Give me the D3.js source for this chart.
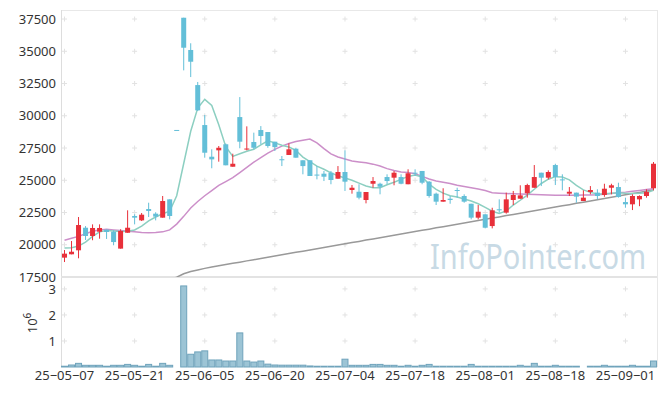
<!DOCTYPE html>
<html>
<head>
<meta charset="utf-8">
<script src="https://cdn.jsdelivr.net/npm/d3@7/dist/d3.min.js"></script>
<style>
  body { margin: 0; background: #fff; }
  text { font-family: "Noto Sans", sans-serif; }
</style>
</head>
<body>
<svg id="chart"></svg>
<script>
// trading days (yy-mm-dd)
const dates = ["25-05-07","25-05-08","25-05-09","25-05-12","25-05-13","25-05-14","25-05-15","25-05-16","25-05-19","25-05-20",
  "25-05-21","25-05-22","25-05-23","25-05-26","25-05-27","25-05-28","25-05-29","25-05-30","25-06-02","25-06-04",
  "25-06-05","25-06-09","25-06-10","25-06-11","25-06-12","25-06-13","25-06-16","25-06-17","25-06-18","25-06-19",
  "25-06-20","25-06-23","25-06-24","25-06-25","25-06-26","25-06-27","25-06-30","25-07-01","25-07-02","25-07-03",
  "25-07-04","25-07-07","25-07-08","25-07-09","25-07-10","25-07-11","25-07-14","25-07-15","25-07-16","25-07-17",
  "25-07-18","25-07-21","25-07-22","25-07-23","25-07-24","25-07-25","25-07-28","25-07-29","25-07-30","25-07-31",
  "25-08-01","25-08-04","25-08-05","25-08-06","25-08-07","25-08-08","25-08-11","25-08-12","25-08-13","25-08-14",
  "25-08-18","25-08-19","25-08-20","25-08-21","25-08-22","25-08-25","25-08-26","25-08-27","25-08-28","25-08-29",
  "25-09-01","25-09-02","25-09-03","25-09-04","25-09-05"];

const open  = [19000,19260,19570,21320,20680,21010,21170,21010,19700,20930,22230,21890,22770,22410,22100,23520,28900,37600,35100,32380,
  29280,26825,27320,27790,26050,29900,27380,27965,28895,28740,27990,26630,26960,27445,26550,26550,25440,25510,25585,25120,
  25640,24245,24110,23470,24730,24730,25250,25200,25250,24690,25585,25720,24890,23960,23340,23570,24245,23780,23180,22100,
  22360,21450,22750,22490,23470,23570,23990,24420,25585,25200,26180,25070,23960,24040,23390,24090,24040,23860,24420,24475,
  23310,23135,23520,23780,24380];
const high  = [19590,20290,22150,21450,21580,21580,21170,21120,21200,22670,22360,22460,23260,22520,23780,23520,28900,37600,35620,32620,
  30060,27400,27655,27850,27060,31450,29180,28690,29200,28740,27990,26880,27860,27520,26550,26550,26100,25720,25720,26100,
  27320,24630,24690,24090,25250,24810,25460,25720,25460,25850,25850,25720,24940,24040,24380,23780,24420,23910,23180,23080,
  22360,22870,23520,24040,24170,24610,24730,26180,25585,25770,26280,25460,24475,24040,24220,24550,24300,24730,24730,24810,
  23650,23910,23830,24300,26415];
const low   = [18660,19260,18950,20370,20350,20470,20450,19960,19700,20930,21580,21840,22150,21890,22100,21970,28900,33520,33000,30370,
  26750,25930,26440,26160,26050,27480,27320,27400,27790,27520,27270,26100,26960,26750,25460,25330,25070,24940,24690,25120,
  24170,23960,23520,23210,24420,23910,24690,24610,24690,24690,25330,24690,23650,23080,23340,23180,23650,23260,21970,21970,
  21270,21270,22490,22410,23080,23570,23650,24420,24550,25070,24630,24220,23780,23260,23390,23910,23520,23720,23910,23650,
  22870,22690,22990,23650,24220];
const close = [19310,19460,21530,20680,21300,21300,20990,20210,21070,21320,22100,22330,22620,22180,23390,22230,28900,35275,34190,30420,
  27135,26620,27520,26160,26280,27990,27460,27520,28430,27655,27580,26550,27400,26750,26100,25330,25400,25275,25020,25640,
  24890,24420,23650,24090,24940,24500,24940,25585,24730,25540,25510,24810,23780,23340,23470,23470,24170,23340,22100,22560,
  21320,22670,22670,23520,23860,23830,24630,25250,25200,25640,25250,24990,24110,23730,23650,24245,23780,24345,24610,23700,
  23135,23780,23780,24110,26280];
const volume = [30000,77000,140000,65000,65000,65000,30000,65000,65000,100000,65000,30000,100000,30000,140000,65000,0,3115000,490000,580000,
  620000,270000,270000,230000,230000,1310000,230000,190000,230000,110000,77000,70000,70000,70000,70000,40000,30000,30000,30000,30000,
  300000,65000,65000,65000,100000,100000,65000,65000,30000,65000,30000,65000,100000,30000,30000,30000,30000,30000,100000,30000,
  30000,30000,30000,30000,30000,65000,30000,140000,30000,30000,65000,30000,30000,30000,0,30000,30000,65000,30000,30000,
  30000,65000,30000,30000,230000];

// moving averages
const maShort = [19750,19770,19900,20200,20650,21000,21100,21070,21020,21050,21150,21450,21850,22150,22400,22600,23800,26300,28800,30600,
  31270,30800,29300,27600,26850,27050,27250,27400,27750,28060,27900,27720,27580,27320,26800,26450,26100,25850,25570,25350,
  25170,25000,24780,24550,24420,24420,24650,24850,25070,25300,25400,25250,24700,24300,24000,23800,23700,23550,23390,23180,
  22900,22600,22420,22620,23080,23450,23850,24300,24750,25080,25280,25250,25030,24600,24250,24060,23930,23950,24000,24040,
  24000,23980,24000,24040,24220];
const maMid = [20350,20500,20650,20850,21050,21150,21200,21150,21100,21050,21000,20950,20930,20950,21000,21150,21600,22200,22850,23350,
  23800,24200,24600,24900,25200,25600,26000,26400,26750,27100,27400,27650,27850,28000,28100,28200,27900,27450,27050,26800,
  26650,26500,26420,26350,26250,26100,25900,25750,25640,25600,25500,25300,25100,24950,24850,24750,24620,24520,24420,24330,
  24200,24040,24000,23970,23950,23930,23910,23900,23880,23850,23830,23830,23830,23840,23850,23860,23880,23920,23980,24040,
  24080,24150,24210,24280,24350];
const maLong = [null,null,null,null,null,null,null,null,null,null,null,null,null,null,null,17300,17480,17750,17920,18050,
  18170,18280,18380,18470,18560,18650,18750,18840,18940,19030,19130,19220,19320,19410,19500,19600,19690,19790,19880,19980,
  20070,20170,20260,20360,20450,20550,20640,20740,20830,20930,21020,21120,21210,21310,21400,21500,21590,21690,21780,21880,
  21970,22070,22160,22260,22350,22450,22540,22640,22730,22830,22920,23020,23110,23210,23300,23400,23490,23590,23680,23780,
  23870,23970,24060,24160,24250];

const priceTicks = [17500,20000,22500,25000,27500,30000,32500,35000,37500];
const volumeTicks = [1e6,2e6,3e6];
const dateTicks = [0,10,20,30,40,50,60,70,80];

const width = 665, height = 396;
const plotLeft = 61, plotRight = 657, plotTop = 10, mainBottom = 277, volTop = 278, volBottom = 367;

const svg = d3.select("#chart").attr("width", width).attr("height", height);

const idx = d3.range(dates.length);
const x = d3.scaleBand().domain(idx).range([plotLeft, plotRight]).padding(0);
const cx = i => x(i) + x.bandwidth() / 2;
const y = d3.scaleLinear().domain([17500, 38200]).range([mainBottom, plotTop]);
const yv = d3.scaleLinear().domain([0, 3.42e6]).range([volBottom, volTop]);

const up = "#e8303a", down = "#63bfd8";

svg.append("defs").append("clipPath").attr("id", "clipMain")
  .append("rect").attr("x", plotLeft).attr("y", plotTop).attr("width", plotRight - plotLeft).attr("height", mainBottom - plotTop);

// frame
svg.append("line").attr("x1", plotLeft).attr("x2", plotRight).attr("y1", plotTop + 0.5).attr("y2", plotTop + 0.5)
  .attr("stroke", "#e8e8e8");
svg.append("line").attr("x1", plotRight + 0.5).attr("x2", plotRight + 0.5).attr("y1", plotTop).attr("y2", volBottom)
  .attr("stroke", "#e8e8e8");
svg.append("line").attr("x1", plotLeft + 0.5).attr("x2", plotLeft + 0.5).attr("y1", plotTop).attr("y2", volBottom)
  .attr("stroke", "#dddddd");
svg.append("line").attr("x1", plotLeft).attr("x2", plotRight).attr("y1", mainBottom).attr("y2", mainBottom)
  .attr("stroke", "#e3e3e3").attr("stroke-width", 2);

// grid crosses
const cross = "M-2.5,0H2.5M0,-2.5V2.5";
const crossPts = [];
dateTicks.forEach(i => {
  priceTicks.filter(p => p > 17500).forEach(p => crossPts.push([cx(i), y(p)]));
  volumeTicks.forEach(v => crossPts.push([cx(i), yv(v)]));
});
svg.append("g").selectAll("path").data(crossPts).enter().append("path")
  .attr("d", cross).attr("transform", d => `translate(${d[0]},${d[1]})`)
  .attr("stroke", "#e2e2e2").attr("stroke-width", 1).attr("fill", "none");

// watermark
svg.append("text").attr("transform", "translate(430,269) scale(1,1.17)").attr("font-size", 29)
  .attr("fill", "#c8dae5").text("InfoPointer.com");

// volume bars
svg.append("g").selectAll("rect").data(idx.filter(i => volume[i] > 0)).enter().append("rect")
  .attr("x", i => x(i) + 0.5)
  .attr("y", i => yv(volume[i]))
  .attr("width", x.bandwidth() - 1)
  .attr("height", i => Math.max(0.5, volBottom - yv(volume[i])))
  .attr("fill", "#9cc4d5").attr("stroke", "#6fa3bb").attr("stroke-width", 1);

const main = svg.append("g").attr("clip-path", "url(#clipMain)");

// moving averages
const line = arr => d3.line().defined(i => arr[i] != null).x(cx).y(i => y(arr[i]))(idx);
main.append("path").attr("d", line(maLong)).attr("fill", "none").attr("stroke", "#999").attr("stroke-width", 1.5);
main.append("path").attr("d", line(maMid)).attr("fill", "none").attr("stroke", "#cc8fc9").attr("stroke-width", 1.5);
main.append("path").attr("d", line(maShort)).attr("fill", "none").attr("stroke", "#8ccfc1").attr("stroke-width", 1.5);

// candles
const candles = main.append("g").selectAll("g").data(idx).enter().append("g");
candles.append("line")
  .attr("x1", cx).attr("x2", cx)
  .attr("y1", i => y(high[i])).attr("y2", i => y(low[i]))
  .attr("stroke", i => close[i] > open[i] ? up : down).attr("stroke-width", 1);
candles.append("rect")
  .attr("x", i => cx(i) - 2.5)
  .attr("y", i => y(Math.max(open[i], close[i])))
  .attr("width", 5)
  .attr("height", i => Math.max(1, Math.abs(y(open[i]) - y(close[i]))))
  .attr("fill", i => close[i] > open[i] ? up : down);

// axes
const yAxis = svg.append("g").attr("transform", `translate(${plotLeft},0)`)
  .call(d3.axisLeft(y).tickValues(priceTicks).tickSize(0).tickPadding(5).tickFormat(d3.format("d")));
yAxis.select(".domain").remove();
yAxis.selectAll("text").attr("font-size", 13).attr("fill", "#333").style("font-family", "'Noto Sans', sans-serif");

const vAxis = svg.append("g").attr("transform", `translate(${plotLeft},0)`)
  .call(d3.axisLeft(yv).tickValues(volumeTicks).tickSize(0).tickPadding(5).tickFormat(d => d / 1e6));
vAxis.select(".domain").remove();
vAxis.selectAll("text").attr("font-size", 13).attr("fill", "#333").style("font-family", "'Noto Sans', sans-serif");

const xAxis = svg.append("g").attr("transform", `translate(0,${volBottom})`)
  .call(d3.axisBottom(x).tickValues(dateTicks).tickSize(0).tickPadding(4)
    .tickFormat(i => dates[i].replace(/-/g, "\u2212")));
xAxis.select(".domain").remove();
xAxis.selectAll("text").attr("font-size", 13).attr("fill", "#333").style("font-family", "'Noto Sans', sans-serif");

// volume unit label
const unit = svg.append("text").attr("transform", "translate(37,323) rotate(-90)")
  .attr("text-anchor", "middle").attr("font-size", 13).attr("fill", "#333");
unit.append("tspan").text("10");
unit.append("tspan").attr("dy", -6).attr("font-size", 10).text("6");
</script>
</body>
</html>
